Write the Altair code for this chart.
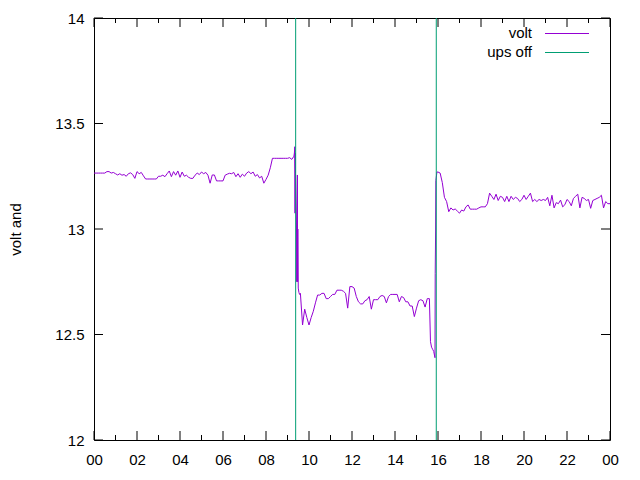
import altair as alt
import pandas as pd

# ---- data (hours of day, battery volts) ----
volt_seg1 = [  # 0.0 .. 9.3 h, every 0.1 h
    13.265, 13.265, 13.265, 13.265, 13.265, 13.265,
    13.272, 13.272, 13.265, 13.268, 13.262,
    13.256, 13.262, 13.255, 13.258, 13.25, 13.262, 13.266, 13.258, 13.24,
    13.272, 13.262, 13.268, 13.252,
    13.237, 13.237, 13.237, 13.237, 13.237, 13.237,
    13.25, 13.25, 13.255, 13.248, 13.262, 13.275, 13.248, 13.272, 13.255, 13.275,
    13.245, 13.27, 13.25, 13.255, 13.245,
    13.24, 13.24, 13.255, 13.265, 13.258, 13.27, 13.262, 13.268, 13.255, 13.217,
    13.256, 13.256, 13.228, 13.228, 13.228, 13.228,
    13.255, 13.26, 13.264, 13.262, 13.268, 13.248, 13.262, 13.245, 13.26,
    13.25, 13.265, 13.272, 13.262, 13.27, 13.25, 13.258, 13.242, 13.25, 13.217,
    13.235, 13.255, 13.29, 13.335,
    13.335, 13.335, 13.335, 13.335, 13.335, 13.335, 13.335,
    13.338, 13.33, 13.345,
]
trans1_hours = [9.32, 9.34, 9.35, 9.355, 9.42, 9.43, 9.44, 9.46, 9.47, 9.48, 9.50, 9.53, 9.56]
trans1_volts = [13.36, 13.39, 13.075, 13.36, 13.0, 12.75, 13.0, 13.256, 12.75, 13.0, 12.72, 12.70, 12.69]

volt_seg2 = [  # 9.6 .. 15.6 h
    12.695, 12.545, 12.62, 12.58, 12.545, 12.58, 12.61, 12.65, 12.687, 12.687,
    12.695, 12.695, 12.67, 12.67, 12.68, 12.69, 12.69, 12.71, 12.71, 12.71,
    12.705, 12.695, 12.625, 12.727, 12.727, 12.72, 12.68, 12.655, 12.645, 12.645,
    12.66, 12.665, 12.68, 12.62, 12.665, 12.665, 12.665, 12.68, 12.685, 12.68,
    12.65, 12.68, 12.69, 12.69, 12.69, 12.69, 12.655, 12.68, 12.675, 12.655,
    12.655, 12.635, 12.635, 12.585, 12.625, 12.66, 12.665, 12.66, 12.63, 12.67,
    12.67,
]
trans2_hours = [15.65, 15.70, 15.75, 15.80, 15.86, 15.87, 15.89, 15.90, 15.95]
trans2_volts = [12.466, 12.44, 12.43, 12.42, 12.39, 12.79, 13.0, 13.23, 13.27]

volt_seg3 = [  # 16.0 .. 24.0 h
    13.27, 13.265, 13.22, 13.15, 13.13, 13.082, 13.1, 13.09, 13.095, 13.085,
    13.075, 13.09, 13.085, 13.105, 13.114, 13.094, 13.094, 13.094, 13.094, 13.1,
    13.105, 13.105, 13.105, 13.12, 13.17, 13.155, 13.14, 13.165, 13.135, 13.155,
    13.15, 13.13, 13.155, 13.13, 13.155, 13.14, 13.15, 13.145, 13.13, 13.14,
    13.16, 13.14, 13.155, 13.17, 13.13, 13.14, 13.13, 13.14, 13.135, 13.14,
    13.135, 13.15, 13.11, 13.16, 13.1, 13.125, 13.12, 13.137, 13.105, 13.115,
    13.14, 13.13, 13.11, 13.145, 13.155, 13.165, 13.1, 13.15, 13.145, 13.135,
    13.14, 13.098, 13.135, 13.14, 13.145, 13.15, 13.16, 13.1, 13.13, 13.12,
    13.12,
]
ups_off_hours = [9.38, 15.92]
legend_names = ["volt", "ups off"]

x_major = list(range(0, 25, 2))
x_minor = list(range(1, 24, 2))
y_major = [12, 12.5, 13, 13.5, 14]


def grid(t0, vals):
    return [round(t0 + 0.1 * i, 3) for i in range(len(vals))]


hours = grid(0.0, volt_seg1) + trans1_hours + grid(9.6, volt_seg2) + trans2_hours + grid(16.0, volt_seg3)
volts = volt_seg1 + trans1_volts + volt_seg2 + trans2_volts + volt_seg3
df = pd.DataFrame({"h": hours, "v": volts})
ups_df = pd.DataFrame({"h": ups_off_hours})
xmaj_df = pd.DataFrame({"h": x_major})
xmin_df = pd.DataFrame({"h": x_minor})
ymaj_df = pd.DataFrame({"v": y_major})
one = pd.DataFrame({"k": [0]})

W, H = 516, 422
FONT = "Liberation Sans"
FS = 15
PURPLE = "#9400d3"
GREEN = "#009e73"

xs = alt.Scale(domain=[0, 24], nice=False, zero=False)
ys = alt.Scale(domain=[12, 14], nice=False, zero=False)

xaxis = alt.Axis(values=x_major, labelExpr="(datum.value % 24 < 10 ? '0' : '') + (datum.value % 24)",
                 ticks=False, domain=False, grid=False, labelFont=FONT, labelFontSize=FS,
                 labelColor="black", labelPadding=12, labelFlush=False, title=None)
yaxis = alt.Axis(values=y_major, format="~g", ticks=False, domain=False, grid=False,
                 labelFont=FONT, labelFontSize=FS, labelColor="black", labelPadding=10,
                 title="volt and", titleFont=FONT, titleFontSize=FS, titleFontWeight="normal",
                 titleColor="black", titleAngle=270, titleX=-79, titleY=H / 2,
                 titleAlign="center", titleBaseline="middle")

x_enc = alt.X("h:Q", scale=xs, axis=xaxis)
y_enc = alt.Y("v:Q", scale=ys, axis=yaxis)

line = alt.Chart(df).mark_line(color=PURPLE, strokeWidth=1, clip=True).encode(x=x_enc, y=y_enc)
ups = alt.Chart(ups_df).mark_rule(color=GREEN, strokeWidth=1).encode(x=x_enc)

tick_bot = alt.Chart(xmaj_df).mark_rule(color="black").encode(x=x_enc, y=alt.value(H), y2=alt.value(H - 9))
tick_top = alt.Chart(xmaj_df).mark_rule(color="black").encode(x=x_enc, y=alt.value(0), y2=alt.value(9))
mtick_bot = alt.Chart(xmin_df).mark_rule(color="black").encode(x=x_enc, y=alt.value(H), y2=alt.value(H - 5))
mtick_top = alt.Chart(xmin_df).mark_rule(color="black").encode(x=x_enc, y=alt.value(0), y2=alt.value(5))
tick_left = alt.Chart(ymaj_df).mark_rule(color="black").encode(y=y_enc, x=alt.value(0), x2=alt.value(9))
tick_right = alt.Chart(ymaj_df).mark_rule(color="black").encode(y=y_enc, x=alt.value(W), x2=alt.value(W - 9))

leg_t1 = alt.Chart(one).mark_text(text=legend_names[0], align="right", baseline="alphabetic", font=FONT,
                                  fontSize=FS, color="black").encode(x=alt.value(438), y=alt.value(20))
leg_t2 = alt.Chart(one).mark_text(text=legend_names[1], align="right", baseline="alphabetic", font=FONT,
                                  fontSize=FS, color="black").encode(x=alt.value(438), y=alt.value(39))
leg_l1 = alt.Chart(one).mark_rule(color=PURPLE).encode(x=alt.value(451), x2=alt.value(495), y=alt.value(15.5))
leg_l2 = alt.Chart(one).mark_rule(color=GREEN).encode(x=alt.value(451), x2=alt.value(495), y=alt.value(34.5))

chart = alt.layer(
    line, ups, tick_bot, tick_top, mtick_bot, mtick_top, tick_left, tick_right,
    leg_t1, leg_t2, leg_l1, leg_l2,
).properties(
    width=W, height=H,
    padding={"left": 94, "top": 18, "right": 30, "bottom": 40},
    autosize=alt.AutoSizeParams(type="none"),
    background="white",
).configure_view(stroke="black", strokeWidth=1)

chart.save("out.html", embed_options={"renderer": "svg", "actions": False})
